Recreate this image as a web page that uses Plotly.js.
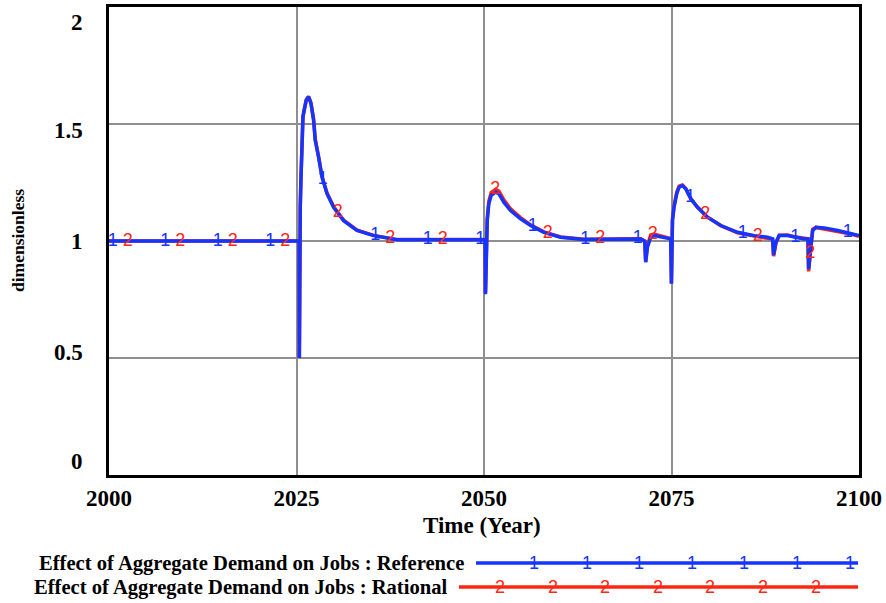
<!DOCTYPE html>
<html>
<head>
<meta charset="utf-8">
<script src="https://cdn.plot.ly/plotly-3.0.1.min.js"></script>
<style>html,body{margin:0;padding:0;background:#fff;}#chart{width:886px;height:603px;}</style>
</head>
<body>
<div id="chart"></div>
<script>
// ---- data ----
const years = [2000, 2025.35, 2025.38, 2025.41, 2025.50, 2025.59, 2025.73, 2025.86, 2026.03, 2026.30, 2026.61, 2026.93, 2027.28, 2027.50, 2027.94, 2028.40, 2029.07, 2029.95, 2031.28, 2033.07, 2035.29, 2038.41, 2045, 2050.15, 2050.20, 2050.29, 2050.43, 2050.64, 2050.96, 2051.54, 2051.98, 2052.64, 2053.54, 2054.87, 2056.21, 2057.98, 2060.21, 2063.32, 2066, 2069.56, 2070.89, 2071.43, 2071.56, 2071.79, 2072.0, 2072.23, 2072.67, 2073.56, 2074.46, 2074.90, 2074.99, 2075.13, 2075.34, 2075.70, 2076.01, 2076.46, 2076.90, 2077.57, 2078.46, 2079.80, 2081.58, 2083.81, 2086.03, 2087.81, 2088.48, 2088.61, 2088.92, 2089.36, 2090.48, 2091.36, 2092.70, 2093.20, 2093.28, 2093.58, 2093.82, 2094.26, 2095.37, 2097.16, 2098.93, 2100];
const reference = [1.0, 1.0, 0.5, 1.058, 1.144, 1.259, 1.402, 1.530, 1.559, 1.602, 1.616, 1.588, 1.516, 1.430, 1.359, 1.273, 1.202, 1.144, 1.087, 1.045, 1.023, 1.005, 1.005, 1.005, 0.773, 1.016, 1.087, 1.159, 1.195, 1.209, 1.202, 1.166, 1.130, 1.095, 1.066, 1.037, 1.016, 1.006, 1.008, 1.009, 1.009, 1.0, 0.909, 0.973, 1.0, 1.016, 1.023, 1.016, 1.012, 1.009, 0.817, 1.087, 1.144, 1.202, 1.230, 1.237, 1.223, 1.180, 1.144, 1.102, 1.066, 1.037, 1.023, 1.016, 1.009, 0.940, 0.994, 1.023, 1.023, 1.016, 1.009, 1.009, 0.880, 0.973, 1.045, 1.059, 1.056, 1.045, 1.033, 1.023];
const rational = [1.0, 1.0, 0.5, 1.060, 1.150, 1.265, 1.405, 1.532, 1.562, 1.604, 1.618, 1.590, 1.520, 1.434, 1.362, 1.276, 1.205, 1.146, 1.089, 1.046, 1.024, 1.006, 1.006, 1.006, 0.780, 1.022, 1.095, 1.170, 1.207, 1.221, 1.213, 1.176, 1.138, 1.100, 1.069, 1.039, 1.017, 1.007, 1.009, 1.010, 1.010, 1.0, 0.912, 0.980, 1.006, 1.026, 1.030, 1.021, 1.014, 1.010, 0.820, 1.095, 1.152, 1.208, 1.234, 1.239, 1.224, 1.181, 1.145, 1.102, 1.065, 1.035, 1.021, 1.014, 1.008, 0.935, 0.990, 1.025, 1.026, 1.018, 1.010, 1.010, 0.870, 0.975, 1.050, 1.058, 1.052, 1.041, 1.030, 1.020];
const marker1Years = [2000.5, 2007.5, 2014.5, 2021.5, 2028.5, 2035.5, 2042.5, 2049.5, 2056.5, 2063.5, 2070.5, 2077.5, 2084.5, 2091.5, 2098.5];
const marker2Years = [2002.5, 2009.5, 2016.5, 2023.5, 2030.5, 2037.5, 2044.5, 2051.5, 2058.5, 2065.5, 2072.5, 2079.5, 2086.5, 2093.5];
const seriesNames = ["Effect of Aggregate Demand on Jobs : Reference", "Effect of Aggregate Demand on Jobs : Rational"];
const seriesLabels = ["1", "2"];
const xTickVals = [2000, 2025, 2050, 2075, 2100];
const yTickVals = [0, 0.5, 1, 1.5, 2];
const yTickText = ["0", "0.5", "1", "1.5", "2"];
const xTitle = "Time (Year)";
const yTitle = "dimensionless";

// ---- style ----
const BLUE = "rgb(22,52,255)";
const RED = "rgb(255,38,18)";
const SERIF = "Liberation Serif, Times New Roman, serif";
const SANS = "Liberation Sans, Arial, sans-serif";
const plotL = 109, plotW = 750, plotT = 7, plotH = 468;
const pxX = px => (px - plotL) / plotW;
const pxY = py => (plotT + plotH - py) / plotH;
const yLabelShift = {0: 14, 0.5: 6, 1: 0, 1.5: -6, 2: -15};

function interp(xs, ys, x) {
  for (let i = 1; i < xs.length; i++) {
    if (x <= xs[i]) {
      const t = (x - xs[i - 1]) / (xs[i] - xs[i - 1]);
      return ys[i - 1] + t * (ys[i] - ys[i - 1]);
    }
  }
  return ys[ys.length - 1];
}

const traces = [
  {x: years, y: rational, type: "scatter", mode: "lines", line: {color: RED, width: 3.5}, hoverinfo: "skip", name: seriesNames[1]},
  {x: years, y: reference, type: "scatter", mode: "lines", line: {color: BLUE, width: 3.5}, hoverinfo: "skip", name: seriesNames[0]},
  {x: marker2Years, y: marker2Years.map(t => interp(years, rational, t)), type: "scatter", mode: "text",
   text: marker2Years.map(() => seriesLabels[1]), textposition: "middle center",
   textfont: {family: SANS, size: 18, color: RED}, hoverinfo: "skip"},
  {x: marker1Years, y: marker1Years.map(t => interp(years, reference, t)), type: "scatter", mode: "text",
   text: marker1Years.map(() => seriesLabels[0]), textposition: "middle center",
   textfont: {family: SANS, size: 18, color: BLUE}, hoverinfo: "skip"}
];

const annotations = [];
yTickVals.forEach((v, i) => {
  annotations.push({xref: "paper", yref: "y", x: 0, y: v, xanchor: "right", yanchor: "middle",
    xshift: -24, yshift: yLabelShift[v], showarrow: false, text: "<b>" + yTickText[i] + "</b>",
    font: {family: SERIF, size: 23, color: "#000"}});
});
annotations.push({xref: "paper", yref: "paper", x: pxX(482), y: pxY(525), xanchor: "center", yanchor: "middle",
  showarrow: false, text: "<b>" + xTitle + "</b>", font: {family: SERIF, size: 23, color: "#000"}});
annotations.push({xref: "paper", yref: "paper", x: pxX(18), y: 0.5, xanchor: "center", yanchor: "middle",
  textangle: -90, showarrow: false, text: "<b>" + yTitle + "</b>", font: {family: SERIF, size: 17.5, color: "#000"}});

// legend (drawn like the original: text, then a line carrying the series number)
const legendRows = [
  {name: seriesNames[0], label: seriesLabels[0], color: BLUE, y: 563, textRight: 466, lineStart: 476, markStart: 534},
  {name: seriesNames[1], label: seriesLabels[1], color: RED, y: 587, textRight: 449, lineStart: 459, markStart: 500}
];
const shapes = [];
legendRows.forEach(r => {
  annotations.push({xref: "paper", yref: "paper", x: pxX(r.textRight), y: pxY(r.y), xanchor: "right", yanchor: "middle",
    showarrow: false, text: "<b>" + r.name + "</b>", font: {family: SERIF, size: 20.6, color: "#000"}});
  shapes.push({type: "line", xref: "paper", yref: "paper", x0: pxX(r.lineStart), x1: pxX(858), y0: pxY(r.y), y1: pxY(r.y),
    line: {color: r.color, width: 3.5}});
  for (let k = 0; k < 7; k++) {
    annotations.push({xref: "paper", yref: "paper", x: pxX(r.markStart + k * 52.6), y: pxY(r.y), xanchor: "center", yanchor: "middle",
      showarrow: false, text: r.label, font: {family: SANS, size: 18, color: r.color}});
  }
});

const layout = {
  width: 886, height: 603,
  margin: {l: plotL, r: 886 - plotL - plotW, t: plotT, b: 603 - plotT - plotH, pad: 0},
  paper_bgcolor: "#fff", plot_bgcolor: "#fff",
  showlegend: false,
  xaxis: {range: [2000, 2100], tickvals: xTickVals, ticktext: xTickVals.map(v => "<b>" + v + "</b>"),
    tickfont: {family: SERIF, size: 23, color: "#000"}, ticks: "", ticklabelstandoff: 0,
    showgrid: true, gridcolor: "#8f8f8f", gridwidth: 2, zeroline: false,
    showline: true, mirror: true, linecolor: "#000", linewidth: 3, fixedrange: true},
  yaxis: {range: [0, 2], tickvals: yTickVals, showticklabels: false, ticks: "",
    showgrid: true, gridcolor: "#8f8f8f", gridwidth: 2, zeroline: false,
    showline: true, mirror: true, linecolor: "#000", linewidth: 3, fixedrange: true},
  annotations: annotations,
  shapes: shapes
};

Plotly.newPlot("chart", traces, layout, {staticPlot: true, displayModeBar: false});
</script>
</body>
</html>
